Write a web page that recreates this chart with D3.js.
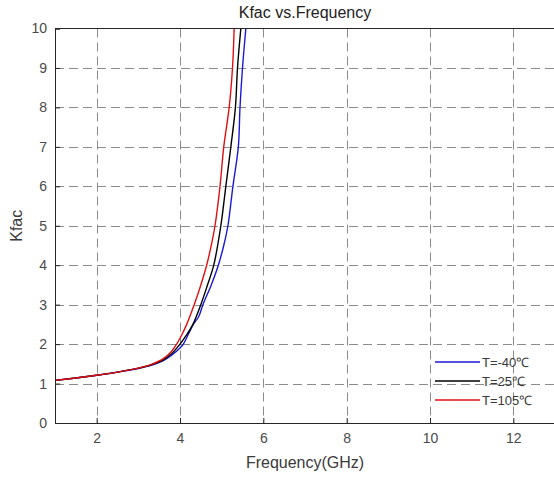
<!DOCTYPE html>
<html>
<head>
<meta charset="utf-8">
<title>Kfac vs.Frequency</title>
<style>
  body { margin: 0; background: #fff; }
  text { font-family: "Liberation Sans", Arial, sans-serif; }
</style>
</head>
<body>
<script src="https://d3js.org/d3.v7.min.js"></script>
<script>
// data
var xTicks = [2, 4, 6, 8, 10, 12];
var yTicks = [0, 1, 2, 3, 4, 5, 6, 7, 8, 9, 10];

var freqM40 = [1, 1.5, 2, 2.5, 3, 3.3, 3.6, 3.8, 4.0, 4.08, 4.2, 4.32, 4.45, 4.55, 4.75, 4.92, 5.05, 5.15, 5.27, 5.40, 5.44, 5.50, 5.58];
var kM40    = [1.08, 1.14, 1.21, 1.29, 1.38, 1.46, 1.58, 1.72, 1.9, 2.0, 2.25, 2.5, 2.7, 3.0, 3.5, 4.0, 4.5, 5.0, 6.0, 7.0, 8.0, 9.0, 10.0];

var freq25  = [1, 1.5, 2, 2.5, 3, 3.3, 3.6, 3.8, 4.0, 4.15, 4.31, 4.50, 4.66, 4.81, 4.98, 5.10, 5.22, 5.33, 5.38, 5.46];
var k25     = [1.08, 1.14, 1.21, 1.29, 1.39, 1.47, 1.6, 1.76, 2.0, 2.22, 2.5, 3.0, 3.5, 4.0, 5.0, 6.0, 7.0, 8.0, 9.0, 10.0];

var freq105 = [1, 1.5, 2, 2.5, 3, 3.3, 3.6, 3.8, 3.92, 4.05, 4.16, 4.34, 4.5, 4.64, 4.75, 4.84, 4.96, 5.05, 5.18, 5.26, 5.30];
var k105    = [1.08, 1.14, 1.21, 1.29, 1.39, 1.48, 1.63, 1.82, 2.0, 2.25, 2.5, 3.0, 3.5, 4.0, 4.5, 5.0, 6.0, 7.0, 8.0, 9.0, 10.0];

var seriesNames = ["T=-40\u2103", "T=25\u2103", "T=105\u2103"];
var seriesColors = ["#1a1ad6", "#000000", "#e01010"];
var seriesFreq = [freqM40, freq25, freq105];
var seriesK = [kM40, k25, k105];

var width = 554, height = 477;
var margin = {top: 28.5, right: -1, bottom: 54, left: 55};
var w = width - margin.left - margin.right;
var h = height - margin.top - margin.bottom;

var svg = d3.select("body").append("svg")
    .attr("width", width)
    .attr("height", height);

var x = d3.scaleLinear().domain([1, 13]).range([margin.left, margin.left + w]);
var y = d3.scaleLinear().domain([0, 10]).range([margin.top + h, margin.top]);

// grid
var grid = svg.append("g").attr("stroke", "#666").attr("stroke-width", 1)
    .attr("stroke-dasharray", "9,5").attr("opacity", 0.75);
grid.selectAll(".gx").data(xTicks).enter().append("line")
    .attr("x1", function(d) { return Math.round(x(d)) + 0.5; })
    .attr("x2", function(d) { return Math.round(x(d)) + 0.5; })
    .attr("y1", y(10)).attr("y2", y(0));
grid.selectAll(".gy").data(yTicks.slice(1, 10)).enter().append("line")
    .attr("y1", function(d) { return Math.round(y(d)) + 0.5; })
    .attr("y2", function(d) { return Math.round(y(d)) + 0.5; })
    .attr("x1", x(1)).attr("x2", x(13));

// curves
svg.append("clipPath").attr("id", "clip").append("rect")
    .attr("x", x(1)).attr("y", y(10)).attr("width", w).attr("height", h);

seriesNames.forEach(function(name, i) {
    var pts = seriesFreq[i].map(function(f, j) { return [f, seriesK[i][j]]; });
    svg.append("path")
        .datum(pts)
        .attr("clip-path", "url(#clip)")
        .attr("fill", "none")
        .attr("stroke", seriesColors[i])
        .attr("stroke-width", 1.4)
        .attr("d", d3.line()
            .x(function(d) { return x(d[0]); })
            .y(function(d) { return y(d[1]); })
            .curve(d3.curveCatmullRom.alpha(0.5)));
});

// axes
var xAxis = d3.axisBottom(x).tickValues(xTicks).tickSize(-5).tickPadding(10);
var yAxis = d3.axisLeft(y).tickValues(yTicks).tickSize(-5).tickPadding(8);

var gx = svg.append("g").attr("transform", "translate(0," + y(0) + ")").call(xAxis);
var gy = svg.append("g").attr("transform", "translate(" + x(1) + ",0)").call(yAxis);
[gx, gy].forEach(function(g) {
    g.select(".domain").attr("stroke", "#262626");
    g.selectAll(".tick line").attr("stroke", "#262626");
    g.selectAll(".tick text").attr("fill", "#4a4a4a")
        .style("font-size", "14px");
});

// top border
svg.append("line")
    .attr("x1", x(1)).attr("x2", width)
    .attr("y1", y(10)).attr("y2", y(10))
    .attr("stroke", "#262626");

// titles
svg.append("text")
    .attr("x", x(7)).attr("y", 18)
    .attr("text-anchor", "middle")
    .attr("fill", "#222")
    .style("font-size", "16px")
    .text("Kfac vs.Frequency");

svg.append("text")
    .attr("x", x(7)).attr("y", 468)
    .attr("text-anchor", "middle")
    .attr("fill", "#3a3a3a")
    .style("font-size", "16px")
    .text("Frequency(GHz)");

svg.append("text")
    .attr("transform", "translate(22," + y(5) + ") rotate(-90)")
    .attr("text-anchor", "middle")
    .attr("fill", "#3a3a3a")
    .style("font-size", "16px")
    .text("Kfac");

// legend
var legend = svg.append("g").attr("transform", "translate(435,362)");
seriesNames.forEach(function(name, i) {
    var row = legend.append("g").attr("transform", "translate(0," + (i * 19) + ")");
    row.append("line").attr("x1", 0).attr("x2", 45).attr("y1", 0).attr("y2", 0)
        .attr("stroke", seriesColors[i]).attr("stroke-width", 1.4);
    row.append("text").attr("x", 47).attr("y", 5)
        .attr("fill", "#3a3a3a")
        .style("font-size", "13px")
        .text(name);
});
</script>
</body>
</html>
